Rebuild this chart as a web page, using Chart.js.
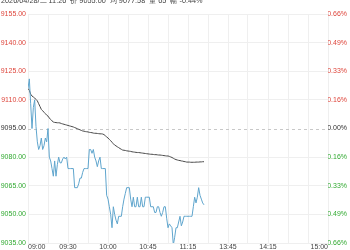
<!DOCTYPE html>
<html>
<head>
<meta charset="utf-8">
<script src="https://cdn.jsdelivr.net/npm/chart.js@4.4.1/dist/chart.umd.min.js"></script>
<style>
  html, body { margin: 0; padding: 0; background: #fff; }
  #wrap { position: relative; width: 350px; height: 250px; overflow: hidden; }
  #head { position: absolute; left: 1px; top: -3px; font: 7.3px "Liberation Sans", Arial, sans-serif; color: #444; line-height: 8px; white-space: pre; }
</style>
</head>
<body>
<div id="wrap">
  <canvas id="chart" width="350" height="250"></canvas>
  <div id="head">2026/04/28/二 11:26  价 9055.00  均 9077.58  量 65  幅 -0.44%</div>
</div>
<script>
// previous close, used for the dashed line and the % axis
var prevClose = 9095;

// y axis ticks and their % labels (right side)
var yTicks = [9035, 9050, 9065, 9080, 9095, 9110, 9125, 9140, 9155];
var pctLabels = ['-0.66%', '-0.49%', '-0.33%', '-0.16%', '0.00%', '0.16%', '0.33%', '0.49%', '0.66%'];

// minutes from open (trading minutes) and the time labels shown
var timeTicks = [0, 30, 60, 90, 120, 150, 180, 225];
var timeLabels = ['09:00', '09:30', '10:00', '10:45', '11:15', '13:45', '14:15', '15:00'];

// one value per minute, 09:00 -> 11:26
var price = [
  9116, 9121, 9108, 9095, 9106, 9110, 9096, 9088, 9084, 9086,
  9090, 9084, 9086, 9090, 9088, 9095, 9080, 9078, 9074, 9070,
  9078, 9070, 9076, 9080, 9077, 9077, 9079, 9080, 9079, 9080,
  9074, 9074, 9074, 9074, 9074, 9064, 9064, 9064, 9066, 9069,
  9069, 9072, 9074, 9074, 9074, 9074, 9084, 9084, 9082, 9084,
  9080, 9078, 9075, 9078, 9080, 9074, 9074, 9074, 9074, 9060,
  9058, 9054, 9050, 9043, 9054, 9050, 9047, 9045, 9049, 9049,
  9049, 9054, 9058, 9061, 9064, 9064, 9064, 9058, 9054, 9059,
  9054, 9054, 9059, 9054, 9054, 9059, 9054, 9054, 9059, 9059,
  9059, 9059, 9054, 9054, 9054, 9051, 9051, 9054, 9054, 9051,
  9049, 9051, 9054, 9054, 9048, 9043, 9045, 9044, 9043, 9034,
  9038, 9043, 9043, 9046, 9049, 9044, 9046, 9049, 9049, 9049,
  9049, 9049, 9049, 9049, 9054, 9059, 9056, 9059, 9064, 9060,
  9058, 9056, 9055
];

var avgPrice = [
  9116.0, 9115.0, 9113.0, 9112.0, 9111.5, 9111.0, 9110.2, 9109.5, 9108.0, 9106.5,
  9105.0, 9104.3, 9103.5, 9102.8, 9102.0, 9101.5, 9100.5, 9099.7, 9099.0, 9098.4,
  9098.2, 9098.1, 9098.0, 9098.0, 9097.9, 9097.6, 9097.4, 9097.2, 9097.0, 9096.8,
  9096.6, 9096.4, 9096.2, 9096.0, 9095.8, 9095.5, 9095.2, 9094.9, 9094.6, 9094.3,
  9094.0, 9093.7, 9093.6, 9093.4, 9093.3, 9093.2, 9093.0, 9092.9, 9092.8, 9092.6,
  9092.5, 9092.5, 9092.4, 9092.3, 9092.2, 9092.2, 9092.1, 9091.8, 9091.2, 9090.6,
  9090.0, 9089.3, 9088.6, 9087.8, 9087.0, 9086.3, 9085.9, 9085.4, 9085.0, 9084.5,
  9084.1, 9083.7, 9083.6, 9083.5, 9083.3, 9083.2, 9083.1, 9083.0, 9082.8, 9082.7,
  9082.6, 9082.5, 9082.4, 9082.4, 9082.3, 9082.2, 9082.1, 9082.0, 9081.9, 9081.8,
  9081.7, 9081.6, 9081.5, 9081.5, 9081.4, 9081.3, 9081.3, 9081.2, 9081.1, 9081.1,
  9081.0, 9080.9, 9080.8, 9080.7, 9080.6, 9080.6, 9080.4, 9080.1, 9079.8, 9079.4,
  9079.0, 9078.7, 9078.5, 9078.3, 9078.2, 9078.0, 9077.9, 9077.7, 9077.6, 9077.4,
  9077.4, 9077.4, 9077.3, 9077.3, 9077.3, 9077.3, 9077.4, 9077.4, 9077.4, 9077.5,
  9077.5, 9077.6, 9077.6
];

////////////////////////////////////////////////////////////////////////////////

var RED = 'rgb(222, 70, 60)';
var GREEN = 'rgb(50, 170, 50)';
var FONT = { family: '"Liberation Sans", Arial, sans-serif', size: 7 };

function toPoints(arr) {
  return arr.map(function (v, i) { return { x: i, y: v }; });
}

function tickColor(value) {
  if (value > prevClose) return RED;
  if (value < prevClose) return GREEN;
  return '#333';
}

// dashed line at previous close + time labels under the plot
var extras = {
  id: 'extras',
  beforeDatasetsDraw: function (chart) {
    var ctx = chart.ctx, area = chart.chartArea;
    var y = Math.round(chart.scales.y.getPixelForValue(prevClose)) + 0.5;
    ctx.save();
    ctx.strokeStyle = '#c8c8c8';
    ctx.lineWidth = 1;
    ctx.setLineDash([3, 3]);
    ctx.beginPath();
    ctx.moveTo(area.left, y);
    ctx.lineTo(area.right, y);
    ctx.stroke();
    ctx.restore();
  },
  afterDraw: function (chart) {
    var ctx = chart.ctx, xs = chart.scales.x, area = chart.chartArea;
    ctx.save();
    ctx.font = FONT.size + 'px ' + FONT.family;
    ctx.fillStyle = '#444';
    ctx.textBaseline = 'middle';
    timeTicks.forEach(function (t, i) {
      ctx.textAlign = i === 0 ? 'left' : (i === timeTicks.length - 1 ? 'right' : 'center');
      ctx.fillText(timeLabels[i], xs.getPixelForValue(t), area.bottom + 4);
    });
    ctx.restore();
  }
};

document.addEventListener('DOMContentLoaded', function () {
  new Chart(document.getElementById('chart'), {
    type: 'line',
    data: {
      datasets: [{
        label: 'price',
        data: toPoints(price),
        borderColor: 'rgb(95, 165, 205)',
        borderWidth: 1,
        pointRadius: 0,
        tension: 0
      }, {
        label: 'avg',
        data: toPoints(avgPrice),
        borderColor: '#4a4a4a',
        borderWidth: 1,
        pointRadius: 0,
        tension: 0
      }]
    },
    options: {
      responsive: false,
      animation: false,
      layout: { padding: { left: 0, right: 3, top: 14, bottom: 0 } },
      plugins: { legend: { display: false }, tooltip: { enabled: false } },
      scales: {
        x: {
          type: 'linear',
          min: 0,
          max: 225,
          afterBuildTicks: function (s) {
            var t = [];
            for (var m = 0; m <= 225; m += 15) t.push({ value: m });
            s.ticks = t;
          },
          afterFit: function (s) { s.height = 7; },
          ticks: { display: false },
          grid: { color: '#efefef', drawTicks: false },
          border: { display: false }
        },
        y: {
          position: 'left',
          min: 9035,
          max: 9155,
          afterBuildTicks: function (s) { s.ticks = yTicks.map(function (v) { return { value: v }; }); },
          afterFit: function (s) { s.width = 28; },
          ticks: {
            font: FONT,
            padding: 2,
            color: function (c) { return tickColor(c.tick.value); },
            callback: function (v) { return v.toFixed(2); }
          },
          grid: {
            color: function (c) { return c.tick && c.tick.value === prevClose ? 'rgba(0,0,0,0)' : '#efefef'; },
            drawTicks: false
          },
          border: { display: false }
        },
        y1: {
          position: 'right',
          min: 9035,
          max: 9155,
          afterBuildTicks: function (s) { s.ticks = yTicks.map(function (v) { return { value: v }; }); },
          afterFit: function (s) { s.width = 19; },
          ticks: {
            font: FONT,
            padding: 0,
            crossAlign: 'far',
            color: function (c) { return tickColor(c.tick.value); },
            callback: function (v) { return pctLabels[yTicks.indexOf(v)]; }
          },
          grid: { display: false },
          border: { display: false }
        }
      }
    },
    plugins: [extras]
  });
});
</script>
</body>
</html>
